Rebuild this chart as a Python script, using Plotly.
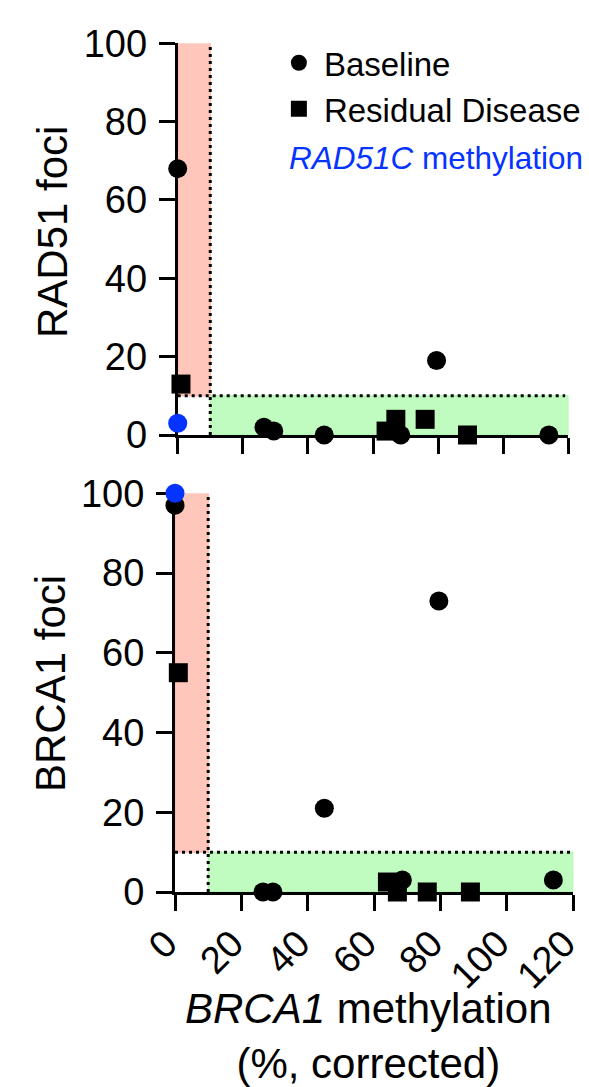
import plotly.graph_objects as go

# ---- data ----
x_baseline = [0, 26.5, 29.5, 45, 68.5, 79.5, 114]
rad51_baseline = [68, 2, 1, 0, 0, 19, 0]
brca1_baseline = [97, 0, 0, 21, 3, 73, 3]

x_residual = [1, 64, 67, 76, 89]
rad51_residual = [13, 1, 4, 4, 0]
brca1_residual = [55, 2.5, 0, 0, 0]

x_rad51c = [0]
rad51_rad51c = [3]
brca1_rad51c = [100]

x_ticks = [0, 20, 40, 60, 80, 100, 120]
y_ticks = [0, 20, 40, 60, 80, 100]

# thresholds for shaded regions
meth_cut = 10
foci_cut = 10

FONT = "Liberation Sans, Arial, Helvetica, sans-serif"
BLUE = "#0533FF"
W, H = 589, 1087

fig = go.Figure()

msize = 19
# top panel
fig.add_trace(go.Scatter(x=x_baseline, y=rad51_baseline, mode="markers", name="Baseline",
                         marker=dict(symbol="circle", size=msize, color="black", line=dict(width=0)),
                         xaxis="x", yaxis="y", cliponaxis=False, legendrank=1))
fig.add_trace(go.Scatter(x=x_residual, y=rad51_residual, mode="markers", name="Residual Disease",
                         marker=dict(symbol="square", size=msize, color="black", line=dict(width=0)),
                         xaxis="x", yaxis="y", cliponaxis=False, legendrank=2))
fig.add_trace(go.Scatter(x=x_rad51c, y=rad51_rad51c, mode="markers", name="RAD51C methylation",
                         marker=dict(symbol="circle", size=msize, color=BLUE, line=dict(width=0)),
                         xaxis="x", yaxis="y", cliponaxis=False, showlegend=False))
# bottom panel
fig.add_trace(go.Scatter(x=x_baseline, y=brca1_baseline, mode="markers", name="Baseline",
                         marker=dict(symbol="circle", size=msize, color="black", line=dict(width=0)),
                         xaxis="x2", yaxis="y2", cliponaxis=False, showlegend=False))
fig.add_trace(go.Scatter(x=x_residual, y=brca1_residual, mode="markers", name="Residual Disease",
                         marker=dict(symbol="square", size=msize, color="black", line=dict(width=0)),
                         xaxis="x2", yaxis="y2", cliponaxis=False, showlegend=False))
fig.add_trace(go.Scatter(x=x_rad51c, y=brca1_rad51c, mode="markers", name="RAD51C methylation",
                         marker=dict(symbol="circle", size=msize, color=BLUE, line=dict(width=0)),
                         xaxis="x2", yaxis="y2", cliponaxis=False, showlegend=False))

# shaded regions + dotted threshold lines
for xr, yr in (("x", "y"), ("x2", "y2")):
    fig.add_shape(type="rect", xref=xr, yref=yr, x0=0, x1=meth_cut, y0=foci_cut, y1=101,
                  fillcolor="#FFC6BC", line=dict(color="#FFA99C", width=1), layer="below")
    fig.add_shape(type="rect", xref=xr, yref=yr, x0=meth_cut, x1=120, y0=0, y1=foci_cut,
                  fillcolor="#C0FCC0", line=dict(color="#A2F2A2", width=1), layer="below")
    fig.add_shape(type="line", xref=xr, yref=yr, x0=meth_cut, x1=meth_cut, y0=0, y1=100,
                  line=dict(color="black", width=3, dash="3px,4px"), layer="below")
    fig.add_shape(type="line", xref=xr, yref=yr, x0=0, x1=119, y0=foci_cut, y1=foci_cut,
                  line=dict(color="black", width=3, dash="3px,4px"), layer="below")

axis_common = dict(showline=True, linewidth=3, linecolor="black", ticks="outside",
                   ticklen=16, tickwidth=3, tickcolor="black", showgrid=False, zeroline=False,
                   layer="below traces", automargin=False,
                   tickfont=dict(family=FONT, size=38, color="black"))

top_x = [177.7 / W, 568.4 / W]
bot_x = [175.0 / W, 573.3 / W]
top_y = [1 - 435.0 / H, 1 - 43.3 / H]
bot_y = [1 - 892.0 / H, 1 - 493.3 / H]

fig.update_layout(
    width=W, height=H,
    margin=dict(l=0, r=0, t=0, b=0, autoexpand=False),
    paper_bgcolor="white", plot_bgcolor="white",
    font=dict(family=FONT, color="black"),
    xaxis=dict(domain=top_x, range=[0, 120], tickvals=x_ticks, showticklabels=False,
               anchor="y", **axis_common),
    yaxis=dict(domain=top_y, range=[0, 100], tickvals=y_ticks, anchor="x",
               ticklabelstandoff=4, **axis_common),
    xaxis2=dict(domain=bot_x, range=[0, 120], tickvals=x_ticks, tickangle=-45,
                anchor="y2", ticklabeloverflow="allow", ticklabelshift=-9,
                ticklabelstandoff=-5, **axis_common),
    yaxis2=dict(domain=bot_y, range=[0, 100], tickvals=y_ticks, anchor="x2",
                ticklabelstandoff=4, **axis_common),
    showlegend=True,
    legend=dict(x=0.465, y=0.968, xanchor="left", yanchor="top",
                font=dict(family=FONT, size=33, color="black"),
                bgcolor="rgba(0,0,0,0)", borderwidth=0, tracegroupgap=0,
                itemsizing="trace", itemwidth=40),
    annotations=[
        dict(text="<i>RAD51C</i> methylation", x=287 / W, y=1 - 158 / H, xref="paper", yref="paper",
             xanchor="left", yanchor="middle", showarrow=False,
             font=dict(family=FONT, size=31.5, color=BLUE)),
        dict(text="RAD51 foci", x=52 / W, y=1 - 232 / H, xref="paper", yref="paper",
             xanchor="center", yanchor="middle", textangle=-90, showarrow=False,
             font=dict(family=FONT, size=42, color="black")),
        dict(text="BRCA1 foci", x=50 / W, y=1 - 684 / H, xref="paper", yref="paper",
             xanchor="center", yanchor="middle", textangle=-90, showarrow=False,
             font=dict(family=FONT, size=42, color="black")),
        dict(text="<i>BRCA1</i> methylation<br>(%, corrected)", x=368 / W, y=1 - 1036 / H,
             xref="paper", yref="paper", xanchor="center", yanchor="middle", showarrow=False,
             font=dict(family=FONT, size=42, color="black")),
    ],
)

fig.write_html("out.html")
